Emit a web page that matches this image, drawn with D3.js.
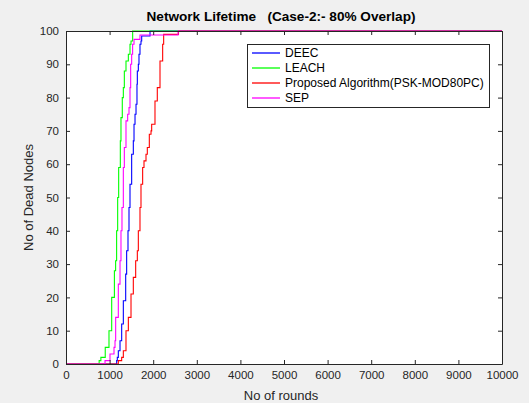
<!DOCTYPE html>
<html><head><meta charset="utf-8">
<script src="https://cdn.jsdelivr.net/npm/d3@7"></script>
<style>
html,body{margin:0;padding:0;background:#f0f0f0;}
svg{display:block;font-family:"Liberation Sans",Arial,sans-serif;}
</style></head>
<body>
<svg id="c" width="529" height="403"></svg>
<script>
const seriesNames = ["DEEC","LEACH","Proposed Algorithm(PSK-MOD80PC)","SEP"];
const seriesColors = ["#0000ff","#00ff00","#ff0000","#ff00ff"];
const xTicks = [0,1000,2000,3000,4000,5000,6000,7000,8000,9000,10000];
const yTicks = [0,10,20,30,40,50,60,70,80,90,100];

const deecRounds = [0,1162,1177,1200,1239,1277,1315,1369,1391,1422,1445,1468,1506,1544,1560,1583,1606,1628,1636,1659,1674,1697,1720,1736,1927,10000];
const deecDead   = [0,1,2,4,7,12,19,27,34,40,47,54,63,67,72,75,78,84,88,90,93,96,97,98.5,100,100];

const leachRounds = [0,760,800,900,986,1048,1110,1138,1161,1185,1208,1246,1261,1291,1315,1338,1376,1430,1468,1491,1529,10000];
const leachDead   = [0,1,2,5,10,20,28,31,40,50,59,67,74,80,83,88,91,93,96,97,100,100];

const propRounds = [0,1200,1277,1315,1376,1430,1491,1544,1598,1636,1659,1697,1720,1758,1789,1835,1865,1911,1950,1965,2041,2094,2156,2217,2240,2580,10000];
const propDead   = [0,1,2,4,10,14,21,26,31,34,40,47,54,59,61,63,65,69,70,72,79,83,91,96,99,100,100];

const sepRounds = [0,895,1009,1101,1124,1139,1200,1239,1261,1284,1315,1338,1376,1414,1445,1468,1483,1506,1528,1560,1697,2570,10000];
const sepDead   = [0,1,3,5,7,14,24,31,40,47,59,65,73,75,77,83,90,93,96,97.5,98.8,100,100];

const allRounds = [deecRounds, leachRounds, propRounds, sepRounds];
const allDead = [deecDead, leachDead, propDead, sepDead];

const titleText = "Network Lifetime   (Case-2:- 80% Overlap)";
const xLabel = "No of rounds";
const yLabel = "No of Dead Nodes";

const svg = d3.select("#c");
const L = 66, R = 502, T = 31, B = 364;
const x = d3.scaleLinear().domain([0,10000]).range([L,R]);
const y = d3.scaleLinear().domain([0,100]).range([B,T]);

svg.append("rect").attr("x",L).attr("y",T).attr("width",R-L).attr("height",B-T).attr("fill","#fff");

svg.append("clipPath").attr("id","clp").append("rect")
  .attr("x",L).attr("y",T-1).attr("width",R-L).attr("height",B-T+2);

const line = d3.line().x(d=>x(d[0])).y(d=>y(d[1])).curve(d3.curveStepAfter);
const g = svg.append("g").attr("clip-path","url(#clp)");
allRounds.forEach((rs,i)=>{
  const pts = rs.map((r,j)=>[r, allDead[i][j]]);
  g.append("path").attr("d",line(pts)).attr("fill","none")
   .attr("stroke",seriesColors[i]).attr("stroke-width",1.1);
});

const axCol = "#262626";
const xa = svg.append("g").attr("transform",`translate(0,${B})`)
  .call(d3.axisBottom(x).tickValues(xTicks).tickFormat(d3.format("d")).tickSizeInner(-4).tickSizeOuter(0).tickPadding(7));
const ya = svg.append("g").attr("transform",`translate(${L},0)`)
  .call(d3.axisLeft(y).tickValues(yTicks).tickSizeInner(-4).tickSizeOuter(0).tickPadding(7));
const xt = svg.append("g").attr("transform",`translate(0,${T})`)
  .call(d3.axisTop(x).tickValues(xTicks).tickFormat("").tickSizeInner(-4).tickSizeOuter(0));
const yr = svg.append("g").attr("transform",`translate(${R},0)`)
  .call(d3.axisRight(y).tickValues(yTicks).tickFormat("").tickSizeInner(-4).tickSizeOuter(0));
[xa,ya,xt,yr].forEach(a=>{
  a.selectAll("path").attr("stroke",axCol).attr("stroke-width",1);
  a.selectAll("line").attr("stroke",axCol);
  a.selectAll("text").attr("fill",axCol).style("font-size","11.5px").style("font-family","Liberation Sans, Arial, sans-serif");
});

svg.append("text").attr("x",281).attr("y",21).attr("text-anchor","middle")
  .style("white-space","pre")
  .style("font-size","13.6px").style("font-weight","bold").attr("fill","#000").text(titleText);
svg.append("text").attr("x",(L+R)/2 - 3).attr("y",400).attr("text-anchor","middle")
  .style("font-size","13px").attr("fill",axCol).text(xLabel);
svg.append("text").attr("transform",`translate(33,${(T+B)/2}) rotate(-90)`).attr("text-anchor","middle")
  .style("font-size","13px").attr("fill",axCol).text(yLabel);

const lg = svg.append("g");
lg.append("rect").attr("x",247.5).attr("y",44.5).attr("width",242).attr("height",63)
  .attr("fill","#fff").attr("stroke",axCol).attr("stroke-width",1);
const ly = [53,68,83,98];
seriesNames.forEach((n,i)=>{
  lg.append("line").attr("x1",252).attr("x2",280).attr("y1",ly[i]).attr("y2",ly[i])
    .attr("stroke",seriesColors[i]).attr("stroke-width",1.3);
  lg.append("text").attr("x",285).attr("y",ly[i]+4).style("font-size","12px").attr("fill","#000").text(n);
});
</script>
</body></html>
